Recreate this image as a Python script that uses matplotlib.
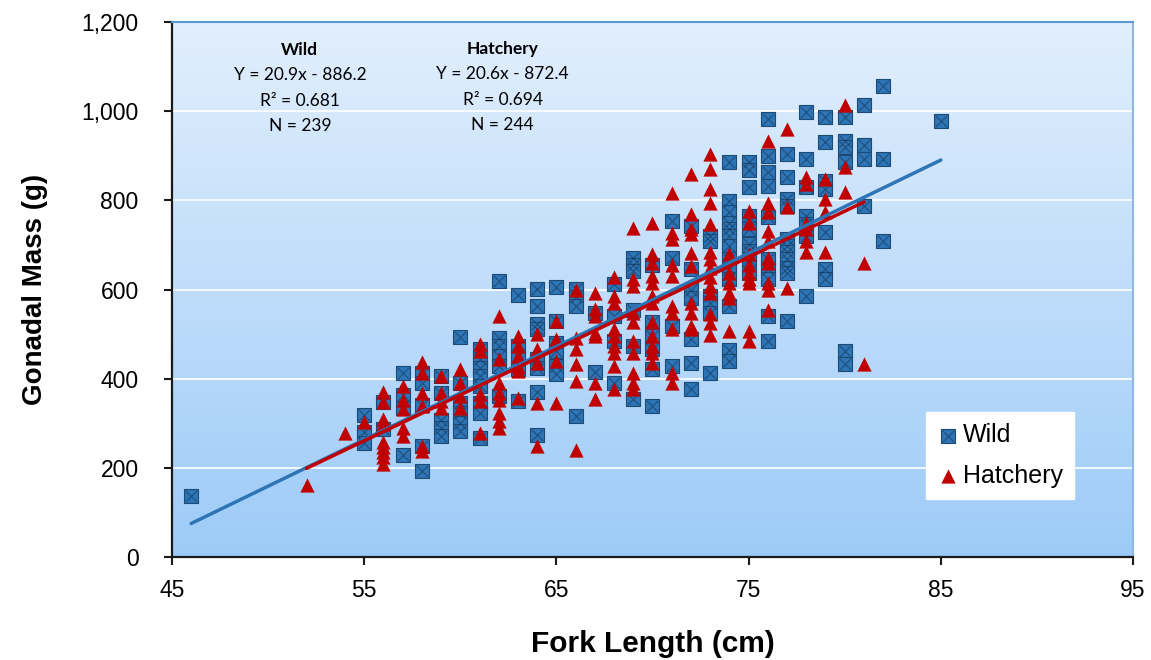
import matplotlib.pyplot as plt
import numpy as np
from matplotlib.colors import LinearSegmentedColormap
from matplotlib.legend_handler import HandlerTuple
from matplotlib.ticker import FuncFormatter

# данные: длина (см) и масса гонад (г)
wild_len = ([46] + [55] * 3 + [56] * 2 + [57] * 4 + [58] * 5 + [59] * 5 + [60] * 6 + [61] * 8
            + [62] * 6 + [63] * 5 + [64] * 8 + [65] * 6 + [66] * 4 + [67] * 2 + [68] * 4 + [69] * 6
            + [70] * 6 + [71] * 4 + [72] * 7 + [73] * 6 + [74] * 13 + [75] * 9 + [76] * 10 + [77] * 11
            + [78] * 7 + [79] * 7 + [80] * 6 + [81] * 4 + [82] * 3 + [85])
wild_mass = [137,
             318, 280, 255,
             347, 287,
             413, 364, 334, 229,
             413, 391, 342, 248, 192,
             406, 368, 308, 289, 271,
             494, 391, 346, 323, 301, 282,
             466, 444, 425, 406, 383, 346, 323, 267,
             618, 492, 474, 451, 429, 361,
             588, 474, 451, 421, 350,
             601, 562, 523, 511, 444, 425, 370, 274,
             605, 530, 481, 462, 429, 410,
             601, 583, 562, 316,
             547, 415,
             612, 541, 484, 391,
             671, 656, 641, 555, 473, 354,
             656, 526, 496, 466, 421, 339,
             754, 671, 518, 428,
             742, 645, 600, 582, 488, 436, 376,
             720, 709, 585, 570, 548, 413,
             887, 799, 773, 750, 735, 720, 698, 668, 645, 623, 563, 465, 439,
             885, 867, 829, 765, 735, 702, 687, 668, 638,
             983, 900, 863, 833, 762, 668, 645, 623, 540, 484,
             904, 852, 802, 787, 713, 698, 683, 668, 649, 638, 529,
             998, 893, 829, 765, 747, 720, 585,
             987, 930, 844, 825, 728, 645, 623,
             987, 934, 919, 885, 462, 432,
             1013, 923, 893, 788,
             1056, 893, 709,
             977]

hatch_len = ([52, 54, 55] + [56] * 9 + [57] * 5 + [58] * 6 + [59] * 4 + [60] * 4 + [61] * 5
             + [62] * 8 + [63] * 6 + [64] * 5 + [65] * 4 + [66] * 6 + [67] * 7 + [68] * 9 + [69] * 10
             + [70] * 12 + [71] * 10 + [72] * 10 + [73] * 14 + [74] * 6 + [75] * 9 + [76] * 10 + [77] * 3
             + [78] * 6 + [79] * 4 + [80] * 3 + [81] * 2)
hatch_mass = [161, 278, 302,
              369, 347, 309, 298, 257, 246, 235, 224, 208,
              383, 353, 331, 289, 271,
              437, 413, 368, 338, 248, 237,
              406, 368, 350, 335,
              422, 391, 361, 335,
              477, 462, 365, 350, 278,
              541, 444, 391, 368, 353, 323, 304, 289,
              496, 474, 451, 429, 417, 357,
              500, 466, 436, 346, 248,
              530, 489, 440, 346,
              600, 492, 466, 432, 395, 240,
              593, 556, 541, 503, 496, 391, 354,
              627, 585, 570, 511, 496, 473, 458, 428, 376,
              739, 623, 608, 548, 526, 484, 458, 413, 391, 376,
              750, 679, 660, 630, 615, 585, 570, 526, 496, 473, 458, 436,
              817, 727, 713, 656, 630, 563, 548, 511, 413, 391,
              858, 769, 735, 724, 682, 652, 570, 548, 518, 511,
              904, 870, 825, 795, 747, 683, 668, 649, 627, 608, 593, 544, 525, 499,
              679, 638, 615, 593, 581, 507,
              777, 750, 679, 656, 638, 623, 615, 507, 484,
              934, 795, 773, 732, 709, 671, 660, 615, 600, 555,
              960, 784, 604,
              852, 837, 750, 735, 709, 683,
              848, 802, 773, 683,
              1013, 874, 818,
              660, 432]

# коэффициенты линий тренда из подписи на графике
wild_fit = (20.9, -886.2)
hatch_fit = (20.6, -872.4)
wild_text = ['Wild', 'Y = 20.9x - 886.2', 'R\u00b2 = 0.681', 'N = 239']
hatch_text = ['Hatchery', 'Y = 20.6x - 872.4', 'R\u00b2 = 0.694', 'N = 244']

blue = '#2e75b6'
red = '#c00000'
font = ['Liberation Sans', 'DejaVu Sans']

fig = plt.figure(figsize=(11.51, 6.60), dpi=100)
ax = fig.add_axes([172 / 1151, 1 - 557 / 660, 961 / 1151, 535 / 660])

# градиентный фон
cmap = LinearSegmentedColormap.from_list('bg', ['#9dcbf8', '#e2effd'])
ax.imshow(np.linspace(0, 1, 256).reshape(-1, 1), cmap=cmap, origin='lower', aspect='auto',
          extent=[0, 1, 0, 1], transform=ax.transAxes, zorder=0)

ax.set_xlim(45, 95)
ax.set_ylim(0, 1200)
ax.set_xticks(np.arange(45, 96, 10))
ax.set_yticks(np.arange(0, 1201, 200))
ax.yaxis.set_major_formatter(FuncFormatter(lambda v, p: f'{int(v):,}'))
for y in np.arange(200, 1201, 200):
    ax.axhline(y, color='white', lw=1.2, zorder=1)

# точки
wl = np.array(wild_len)
wm = np.array(wild_mass)
hl = np.array(hatch_len)
hm = np.array(hatch_mass)
sq = ax.scatter(wl, wm, marker='s', s=95, facecolor=blue, edgecolor='#1b4a75', linewidth=0.8, zorder=3)
sx = ax.scatter(wl, wm, marker='x', s=70, color='#143657', linewidth=0.9, alpha=0.55, zorder=3.1)
tr = ax.scatter(hl, hm, marker='^', s=105, color=red, linewidth=0, zorder=3.5)

# линии тренда
xw = np.array([wl.min(), wl.max()])
ax.plot(xw, wild_fit[0] * xw + wild_fit[1], color=blue, lw=2.5, solid_capstyle='round', zorder=4)
xh = np.array([hl.min(), hl.max()])
ax.plot(xh, hatch_fit[0] * xh + hatch_fit[1], color=red, lw=2.5, solid_capstyle='round', zorder=5)

# подписи уравнений
for i, (line_w, line_h) in enumerate(zip(wild_text, hatch_text)):
    fw = 'bold' if i == 0 else 'normal'
    ax.text(0.133, 0.948 - i * 0.0475, line_w, transform=ax.transAxes, ha='center', va='center',
            fontsize=12.5, fontweight=fw, family=['Lato', 'DejaVu Sans'], zorder=6)
    ax.text(0.344, 0.950 - i * 0.0475, line_h, transform=ax.transAxes, ha='center', va='center',
            fontsize=12.5, fontweight=fw, family=['Lato', 'DejaVu Sans'], zorder=6)

# оси
for side in ['left', 'bottom']:
    ax.spines[side].set_color('#1a1a1a')
    ax.spines[side].set_linewidth(1.6)
ax.spines['top'].set_color('#5b9bd5')
ax.spines['top'].set_linewidth(1.5)
ax.spines['right'].set_color('#8fb8e0')
ax.spines['right'].set_linewidth(1.5)
ax.tick_params(axis='both', direction='out', length=6, width=1.5, color='#1a1a1a')
ax.tick_params(axis='y', pad=18)
ax.tick_params(axis='x', pad=10)
for lab in ax.get_xticklabels() + ax.get_yticklabels():
    lab.set_family(font)
    lab.set_fontsize(16.5)

ax.set_xlabel('Fork Length (cm)', fontsize=21.5, fontweight='bold', family=font, labelpad=20)
ax.set_ylabel('Gonadal Mass (g)', fontsize=20, fontweight='bold', family=font, labelpad=24)

leg = ax.legend([(sq, sx), tr], ['Wild', 'Hatchery'], handler_map={tuple: HandlerTuple(ndivide=1)},
                loc='upper left', bbox_to_anchor=(0.785, 0.271), borderaxespad=0, frameon=True,
                fancybox=False, framealpha=1, facecolor='white', edgecolor='white',
                prop={'family': font, 'size': 18}, handlelength=0.8, handletextpad=0.2,
                labelspacing=0.65, borderpad=0.45, scatterpoints=1)
leg.set_zorder(7)

fig.savefig('out.png', dpi=100)
